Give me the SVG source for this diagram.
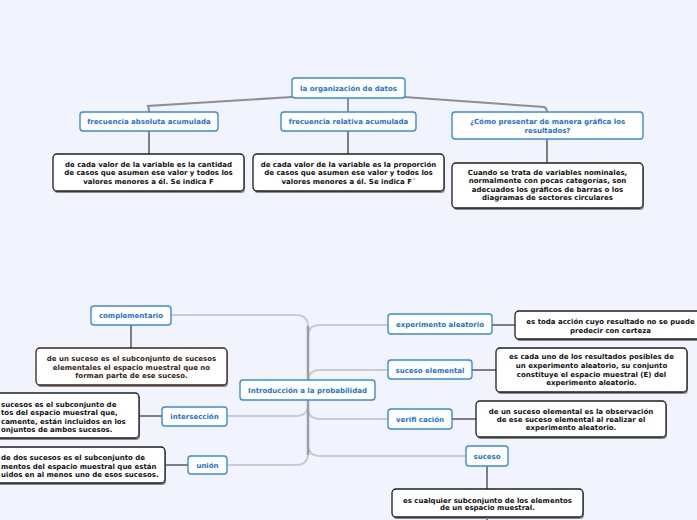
<svg xmlns="http://www.w3.org/2000/svg" width="697" height="520" viewBox="0 0 697 520">
<style>
text{font-family:"DejaVu Sans","Verdana",sans-serif;font-weight:bold;font-size:7px;}
.t{fill:#1d72d8;text-anchor:middle;}
.d{fill:#111;text-anchor:middle;}
.db{fill:#3a2418;text-anchor:middle;}
.e{fill:#111;text-anchor:start;}
.tb{fill:#fff;stroke:#3a8ae2;stroke-width:1.4;}
.bx{fill:#fff;stroke:#1e1e1e;stroke-width:1.3;}
.bxb{fill:#fff;stroke:#3a2418;stroke-width:1.3;}
.sh{fill:#8a8a8a;}
.c1{fill:none;stroke:#8e8f95;stroke-width:2;}
.c2{fill:none;stroke:#c9ccd4;stroke-width:2;}
.c3{fill:none;stroke:#9c9ea5;stroke-width:2.5;}
.c4{fill:none;stroke:#7d7f85;stroke-width:2;}
</style>
<rect width="697" height="520" fill="#f1f4fd"/>
<g id="connectors">
<path class="c1" d="M292,97 L148,106 Q149,108 149,112"/>
<path class="c1" d="M404,97 L544,107 Q547,108 547,112"/>
<path class="c1" d="M348,98 L348,112"/>
<path class="c4" d="M149,131 L149,154"/>
<path class="c4" d="M348,131 L348,154"/>
<path class="c4" d="M547,139 L547,163"/>
<path class="c2" d="M171,315 L296,315 Q308,315 308,327 L308,390"/>
<path class="c2" d="M227,416 L296,416 Q308,416 308,404 L308,390"/>
<path class="c2" d="M227,465 L296,465 Q308,465 308,453 L308,390"/>
<path class="c2" d="M388,325 L320,325 Q308,325 308,337 L308,390"/>
<path class="c2" d="M388,370 L320,370 Q308,370 308,382 L308,390"/>
<path class="c2" d="M388,419 L320,419 Q308,419 308,407 L308,390"/>
<path class="c2" d="M466,456 L320,456 Q308,456 308,444 L308,390"/>
<path class="c3" d="M308,326 L308,455"/>
<path class="c4" d="M492,325 L515,325"/>
<path class="c4" d="M472,370 L496,370"/>
<path class="c4" d="M452,419 L476,419"/>
<path class="c4" d="M487,466 L487,489"/>
<path class="c4" d="M487,517 L487,520"/>
<path class="c4" d="M131,325 L131,348"/>
<path class="c4" d="M162,416 L139,416"/>
<path class="c4" d="M188,465 L165,465"/>
</g>
<g id="org">
<rect class="tb" x="292" y="78" width="113" height="20" rx="3"/>
<text class="t" x="348.5" y="90.5">la organización de datos</text>
</g>
<g id="fabs">
<rect class="tb" x="80" y="112" width="138" height="19" rx="3"/>
<text class="t" x="149" y="124">frecuencia absoluta acumulada</text>
</g>
<g id="frel">
<rect class="tb" x="281" y="112" width="135" height="19" rx="3"/>
<text class="t" x="348.5" y="124">frecuencia relativa acumulada</text>
</g>
<g id="como">
<rect class="tb" x="452" y="112" width="191" height="27" rx="3"/>
<text class="t" x="547.5" y="124">¿Cómo presentar de manera gráfica los</text>
<text class="t" x="547.5" y="133">resultados?</text>
</g>
<g id="desc-fabs">
<rect class="sh" x="54" y="156" width="191" height="37" rx="4"/>
<rect class="bx" x="53" y="154" width="191" height="37" rx="4"/>
<text class="d" x="148.5" y="166.8">de cada valor de la variable es la cantidad</text>
<text class="d" x="148.5" y="175.3">de casos que asumen ese valor y todos los</text>
<text class="d" x="148.5" y="183.8">valores menores a él. Se indica F</text>
</g>
<g id="desc-frel">
<rect class="sh" x="254" y="156" width="191" height="37" rx="4"/>
<rect class="bx" x="253" y="154" width="191" height="37" rx="4"/>
<text class="d" x="348.5" y="166.8">de cada valor de la variable es la proporción</text>
<text class="d" x="348.5" y="175.3">de casos que asumen ese valor y todos los</text>
<text class="d" x="348.5" y="183.8">valores menores a él. Se indica F´</text>
</g>
<g id="desc-como">
<rect class="sh" x="453" y="165" width="191" height="45" rx="4"/>
<rect class="bx" x="452" y="163" width="191" height="45" rx="4"/>
<text class="d" x="547.5" y="174.5">Cuando se trata de variables nominales,</text>
<text class="d" x="547.5" y="183">normalmente con pocas categorías, son</text>
<text class="d" x="547.5" y="191.5">adecuados los gráficos de barras o los</text>
<text class="d" x="547.5" y="200">diagramas de sectores circulares</text>
</g>
<g id="intro">
<rect class="tb" x="240" y="380" width="135" height="20" rx="3"/>
<text class="t" x="307.5" y="392.5">Introducción a la probabilidad</text>
</g>
<g id="complementario">
<rect class="tb" x="91" y="306" width="80" height="19" rx="3"/>
<text class="t" x="131" y="318">complementario</text>
</g>
<g id="desc-complementario">
<rect class="sh" x="37" y="350" width="191" height="37" rx="4"/>
<rect class="bxb" x="36" y="348" width="191" height="37" rx="4"/>
<text class="db" x="131.5" y="360.8">de un suceso es el subconjunto de sucesos</text>
<text class="db" x="131.5" y="369.5">elementales el espacio muestral que no</text>
<text class="db" x="131.5" y="378.2">forman parte de ese suceso.</text>
</g>
<g id="interseccion">
<rect class="tb" x="162" y="407" width="65" height="19" rx="3"/>
<text class="t" x="194.5" y="419">intersección</text>
</g>
<g id="desc-interseccion">
<rect class="sh" x="-51" y="395" width="191" height="45" rx="4"/>
<rect class="bx" x="-52" y="393" width="191" height="45" rx="4"/>
<text class="e" x="1" y="406.5">sucesos es el subconjunto de</text>
<text class="e" x="1" y="415.2">tos del espacio muestral que,</text>
<text class="e" x="1" y="423.5">camente, están incluidos en los</text>
<text class="e" x="1" y="431.8">onjuntos de ambos sucesos.</text>
</g>
<g id="union">
<rect class="tb" x="188" y="456" width="39" height="18" rx="3"/>
<text class="t" x="207.5" y="467.5">unión</text>
</g>
<g id="desc-union">
<rect class="sh" x="-25" y="449" width="191" height="36" rx="4"/>
<rect class="bx" x="-26" y="447" width="191" height="36" rx="4"/>
<text class="e" x="1" y="460.2">de dos sucesos es el subconjunto de</text>
<text class="e" x="1" y="468.5">mentos del espacio muestral que están</text>
<text class="e" x="1" y="476.8">uidos en al menos uno de esos sucesos.</text>
</g>
<g id="experimento">
<rect class="tb" x="388" y="314" width="104" height="20" rx="3"/>
<text class="t" x="440" y="326.5">experimento aleatorio</text>
</g>
<g id="desc-experimento">
<rect class="sh" x="516" y="313" width="191" height="28" rx="4"/>
<rect class="bx" x="515" y="311" width="191" height="28" rx="4"/>
<text class="d" x="610.5" y="324.2">es toda acción cuyo resultado no se puede</text>
<text class="d" x="610.5" y="332.5">predecir con certeza</text>
</g>
<g id="suceso-elemental">
<rect class="tb" x="388" y="360" width="84" height="19" rx="3"/>
<text class="t" x="430" y="372.5">suceso elemental</text>
</g>
<g id="desc-suceso-elemental">
<rect class="sh" x="497" y="350" width="191" height="44" rx="4"/>
<rect class="bx" x="496" y="348" width="191" height="44" rx="4"/>
<text class="d" x="591.5" y="359.2">es cada uno de los resultados posibles de</text>
<text class="d" x="591.5" y="368.2">un experimento aleatorio, su conjunto</text>
<text class="d" x="591.5" y="376.5">constituye el espacio muestral (E) del</text>
<text class="d" x="591.5" y="385.2">experimento aleatorio.</text>
</g>
<g id="verificacion">
<rect class="tb" x="388" y="409" width="64" height="20" rx="3"/>
<text class="t" x="420" y="421.5">verifi cación</text>
</g>
<g id="desc-verificacion">
<rect class="sh" x="477" y="403" width="190" height="36" rx="4"/>
<rect class="bx" x="476" y="401" width="190" height="36" rx="4"/>
<text class="d" x="571" y="413.5">de un suceso elemental es la observación</text>
<text class="d" x="571" y="421.5">de ese suceso elemental al realizar el</text>
<text class="d" x="571" y="430">experimento aleatorio.</text>
</g>
<g id="suceso">
<rect class="tb" x="466" y="446" width="42" height="20" rx="3"/>
<text class="t" x="487" y="458.5">suceso</text>
</g>
<g id="desc-suceso">
<rect class="sh" x="393" y="491" width="191" height="28" rx="4"/>
<rect class="bx" x="392" y="489" width="191" height="28" rx="4"/>
<text class="d" x="487.5" y="502.5">es cualquier subconjunto de los elementos</text>
<text class="d" x="487.5" y="510">de un espacio muestral.</text>
</g>
</svg>
